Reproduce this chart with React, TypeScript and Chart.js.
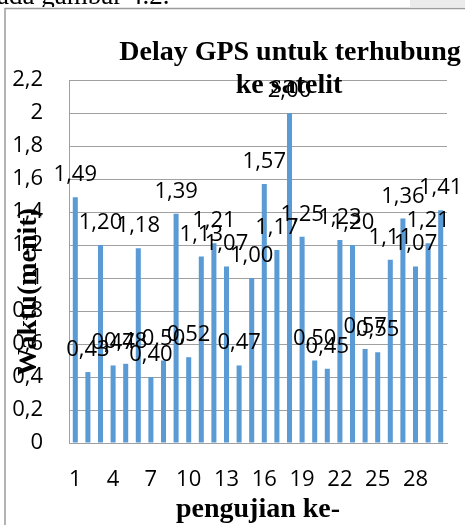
import React, { useEffect, useRef } from "react";
import { Chart, registerables } from "chart.js";

Chart.register(...registerables);

const categories: string[] = Array.from({ length: 30 }, (_, i) => String(i + 1));
const delayValues: number[] = [
  1.49, 0.43, 1.2, 0.47, 0.48, 1.18, 0.4, 0.5, 1.39, 0.52,
  1.13, 1.21, 1.07, 0.47, 1.0, 1.57, 1.17, 2.0, 1.25, 0.5,
  0.45, 1.23, 1.2, 0.57, 0.55, 1.11, 1.36, 1.07, 1.21, 1.41,
];
const titleLines: string[] = ["Delay GPS untuk terhubung", "ke satelit"];
const yTitle = "Waktu(menit)";
const xTitle = "pengujian ke-";
const pageText = "ada gambar 4.2.";

const SERIF_BOLD = 'bold 28px "Liberation Serif", "Times New Roman", serif';
const LABEL_FONT = '22px "Open Sans", "Liberation Sans", sans-serif';

const decorPlugin = {
  id: "decor",
  beforeDraw(chart: any) {
    const ctx = chart.ctx;
    ctx.save();
    ctx.fillStyle = "#ffffff";
    ctx.fillRect(0, 0, chart.width, chart.height);
    ctx.fillStyle = "#ebebeb";
    ctx.fillRect(410, 0, 60, 7);
    ctx.fillStyle = "#000";
    ctx.font = '27px "Liberation Serif", "Times New Roman", serif';
    ctx.textAlign = "left";
    ctx.textBaseline = "alphabetic";
    ctx.fillText(pageText, -3, 4);
    ctx.fillStyle = "#ffffff";
    ctx.fillRect(0, 7, chart.width, chart.height);
    ctx.strokeStyle = "#9a9a9a";
    ctx.lineWidth = 1.5;
    ctx.beginPath();
    ctx.moveTo(5, 525);
    ctx.lineTo(5, 8.5);
    ctx.lineTo(465, 8.5);
    ctx.stroke();
    ctx.restore();
  },
  afterDatasetsDraw(chart: any) {
    const ctx = chart.ctx;
    const meta = chart.getDatasetMeta(0);
    ctx.save();
    ctx.fillStyle = "#000";
    ctx.font = LABEL_FONT;
    ctx.textAlign = "center";
    ctx.textBaseline = "alphabetic";
    meta.data.forEach((el: any, i: number) => {
      const v = delayValues[i];
      ctx.fillText(v.toFixed(2).replace(".", ","), el.x, el.y - 16);
    });
    ctx.font = SERIF_BOLD;
    ctx.fillText(titleLines[0], 290, 60);
    ctx.fillText(titleLines[1], 289, 93);
    const ca = chart.chartArea;
    ctx.fillText(xTitle, (ca.left + ca.right) / 2, 517);
    ctx.translate(36, 292);
    ctx.rotate(-Math.PI / 2);
    ctx.fillText(yTitle, 0, 0);
    ctx.restore();
  },
};

export default function App() {
  const ref = useRef<HTMLCanvasElement | null>(null);
  useEffect(() => {
    if (!ref.current) return;
    const chart = new Chart(ref.current, {
      type: "bar",
      data: {
        labels: categories,
        datasets: [
          {
            data: delayValues,
            backgroundColor: "#5B9BD5",
            borderWidth: 0,
            categoryPercentage: 1,
            barPercentage: 0.4,
          },
        ],
      },
      options: {
        responsive: false,
        animation: false,
        layout: { padding: { left: 0, top: 80, right: 18, bottom: 0 } },
        plugins: {
          legend: { display: false },
          title: { display: false },
          tooltip: { enabled: false },
        },
        scales: {
          x: {
            offset: true,
            grid: { display: false, drawTicks: false },
            border: { display: true, color: "#a0a0a0" },
            ticks: {
              autoSkip: false,
              maxRotation: 0,
              minRotation: 0,
              padding: 24,
              color: "#000",
              font: { family: '"Open Sans", "Liberation Sans", sans-serif', size: 22 },
              callback: (_v: any, idx: number) => (idx % 3 === 0 ? categories[idx] : ""),
            },
            afterFit: (s: any) => {
              s.height = 82;
            },
          },
          y: {
            min: 0,
            max: 2.2,
            grid: { color: "#a0a0a0", lineWidth: 1, drawTicks: false },
            border: { display: true, color: "#a0a0a0" },
            ticks: {
              stepSize: 0.2,
              padding: 26,
              color: "#000",
              font: { family: '"Open Sans", "Liberation Sans", sans-serif', size: 22 },
              callback: (v: any) => String(Number(Number(v).toFixed(1))).replace(".", ","),
            },
            afterFit: (s: any) => {
              s.width = 69;
            },
          },
        },
      },
      plugins: [decorPlugin],
    });
    return () => chart.destroy();
  }, []);
  return (
    <div style={{ position: "absolute", left: 0, top: 0, width: 465, height: 525 }}>
      <canvas ref={ref} width={465} height={525} style={{ display: "block" }} />
    </div>
  );
}
